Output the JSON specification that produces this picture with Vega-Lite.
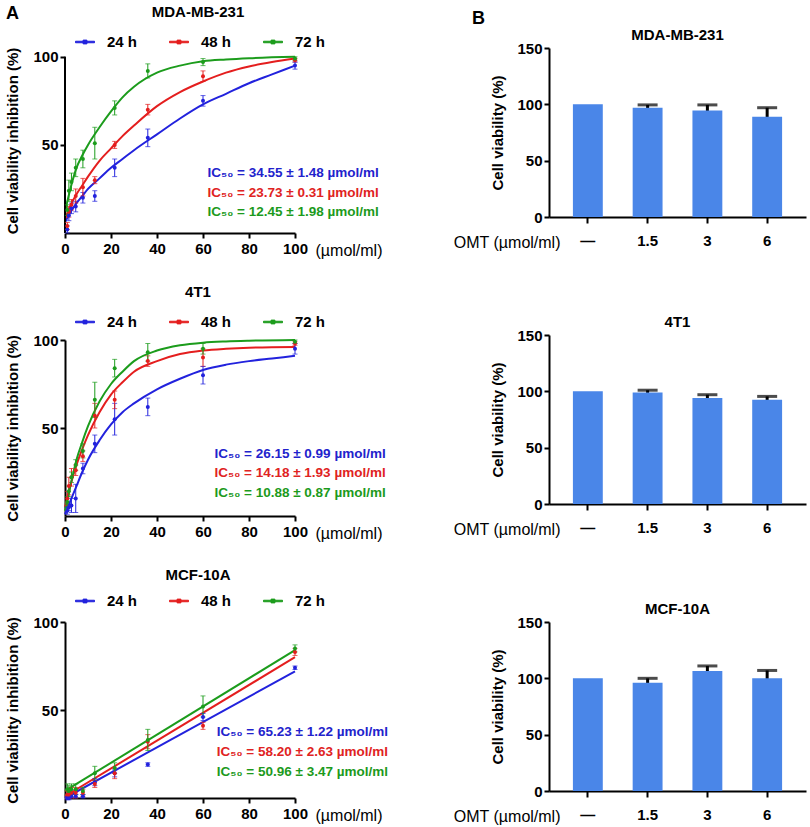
{
  "$schema": "https://vega.github.io/schema/vega-lite/v6.json",
  "background": "white",
  "config": {
    "font": "Liberation Sans",
    "view": {"stroke": null},
    "axis": {"grid": false, "domainColor": "#000", "domainWidth": 2, "tickColor": "#000", "tickWidth": 2, "tickSize": 5, "labelFont": "Liberation Sans", "labelFontSize": 15, "labelFontWeight": "bold", "labelColor": "#000", "titleFont": "Liberation Sans", "titleFontSize": 15, "titleFontWeight": "bold", "titleColor": "#000"},
    "title": {"font": "Liberation Sans", "fontSize": 15, "fontWeight": "bold", "color": "#000"},
    "legend": {"labelFont": "Liberation Sans", "labelFontSize": 15, "labelFontWeight": "bold", "labelColor": "#000", "symbolType": "M-1,-0.08H1V0.08H-1Z M-0.2,-0.2H0.2V0.2H-0.2Z", "symbolSize": 361, "labelOffset": 12, "columnPadding": 29, "symbolStrokeWidth": 1, "symbolOpacity": 1}
  },
  "datasets": {
    "pts": [
      {"cell":"MDA-MB-231","time":"24 h","conc":1.0,"val":2,"sd":2},
      {"cell":"MDA-MB-231","time":"24 h","conc":1.68,"val":10,"sd":3},
      {"cell":"MDA-MB-231","time":"24 h","conc":2.8,"val":14,"sd":3},
      {"cell":"MDA-MB-231","time":"24 h","conc":4.67,"val":15,"sd":3},
      {"cell":"MDA-MB-231","time":"24 h","conc":7.78,"val":20,"sd":3},
      {"cell":"MDA-MB-231","time":"24 h","conc":12.96,"val":21,"sd":3},
      {"cell":"MDA-MB-231","time":"24 h","conc":21.6,"val":37,"sd":5},
      {"cell":"MDA-MB-231","time":"24 h","conc":36,"val":54,"sd":5},
      {"cell":"MDA-MB-231","time":"24 h","conc":60,"val":75,"sd":3},
      {"cell":"MDA-MB-231","time":"24 h","conc":100,"val":95,"sd":2},
      {"cell":"MDA-MB-231","time":"48 h","conc":1.0,"val":4,"sd":2},
      {"cell":"MDA-MB-231","time":"48 h","conc":1.68,"val":12,"sd":3},
      {"cell":"MDA-MB-231","time":"48 h","conc":2.8,"val":16,"sd":3},
      {"cell":"MDA-MB-231","time":"48 h","conc":4.67,"val":21,"sd":4},
      {"cell":"MDA-MB-231","time":"48 h","conc":7.78,"val":26,"sd":5},
      {"cell":"MDA-MB-231","time":"48 h","conc":12.96,"val":30,"sd":2},
      {"cell":"MDA-MB-231","time":"48 h","conc":21.6,"val":50,"sd":2},
      {"cell":"MDA-MB-231","time":"48 h","conc":36,"val":70,"sd":3},
      {"cell":"MDA-MB-231","time":"48 h","conc":60,"val":89,"sd":3},
      {"cell":"MDA-MB-231","time":"48 h","conc":100,"val":98,"sd":1},
      {"cell":"MDA-MB-231","time":"72 h","conc":1.0,"val":13,"sd":3},
      {"cell":"MDA-MB-231","time":"72 h","conc":1.68,"val":24,"sd":6},
      {"cell":"MDA-MB-231","time":"72 h","conc":2.8,"val":29,"sd":5},
      {"cell":"MDA-MB-231","time":"72 h","conc":4.67,"val":37,"sd":5},
      {"cell":"MDA-MB-231","time":"72 h","conc":7.78,"val":42,"sd":5},
      {"cell":"MDA-MB-231","time":"72 h","conc":12.96,"val":51,"sd":9},
      {"cell":"MDA-MB-231","time":"72 h","conc":21.6,"val":71,"sd":4},
      {"cell":"MDA-MB-231","time":"72 h","conc":36,"val":92,"sd":4},
      {"cell":"MDA-MB-231","time":"72 h","conc":60,"val":97,"sd":2},
      {"cell":"MDA-MB-231","time":"72 h","conc":100,"val":99,"sd":1},
      {"cell":"4T1","time":"24 h","conc":1.0,"val":3,"sd":2},
      {"cell":"4T1","time":"24 h","conc":1.68,"val":5,"sd":2},
      {"cell":"4T1","time":"24 h","conc":2.8,"val":6,"sd":4},
      {"cell":"4T1","time":"24 h","conc":4.67,"val":10,"sd":8},
      {"cell":"4T1","time":"24 h","conc":7.78,"val":27,"sd":3},
      {"cell":"4T1","time":"24 h","conc":12.96,"val":41,"sd":5},
      {"cell":"4T1","time":"24 h","conc":21.6,"val":55,"sd":9},
      {"cell":"4T1","time":"24 h","conc":36,"val":62,"sd":5},
      {"cell":"4T1","time":"24 h","conc":60,"val":80,"sd":5},
      {"cell":"4T1","time":"24 h","conc":100,"val":95,"sd":3},
      {"cell":"4T1","time":"48 h","conc":1.0,"val":10,"sd":4},
      {"cell":"4T1","time":"48 h","conc":1.68,"val":17,"sd":5},
      {"cell":"4T1","time":"48 h","conc":2.8,"val":22,"sd":5},
      {"cell":"4T1","time":"48 h","conc":4.67,"val":26,"sd":3},
      {"cell":"4T1","time":"48 h","conc":7.78,"val":34,"sd":3},
      {"cell":"4T1","time":"48 h","conc":12.96,"val":57,"sd":7},
      {"cell":"4T1","time":"48 h","conc":21.6,"val":66,"sd":5},
      {"cell":"4T1","time":"48 h","conc":36,"val":88,"sd":3},
      {"cell":"4T1","time":"48 h","conc":60,"val":90,"sd":5},
      {"cell":"4T1","time":"48 h","conc":100,"val":98,"sd":1},
      {"cell":"4T1","time":"72 h","conc":1.0,"val":8,"sd":3},
      {"cell":"4T1","time":"72 h","conc":1.68,"val":14,"sd":3},
      {"cell":"4T1","time":"72 h","conc":2.8,"val":22,"sd":3},
      {"cell":"4T1","time":"72 h","conc":4.67,"val":29,"sd":3},
      {"cell":"4T1","time":"72 h","conc":7.78,"val":37,"sd":4},
      {"cell":"4T1","time":"72 h","conc":12.96,"val":66,"sd":10},
      {"cell":"4T1","time":"72 h","conc":21.6,"val":84,"sd":5},
      {"cell":"4T1","time":"72 h","conc":36,"val":93,"sd":5},
      {"cell":"4T1","time":"72 h","conc":60,"val":95,"sd":3},
      {"cell":"4T1","time":"72 h","conc":100,"val":99,"sd":1},
      {"cell":"MCF-10A","time":"24 h","conc":1.0,"val":0,"sd":1},
      {"cell":"MCF-10A","time":"24 h","conc":1.68,"val":0,"sd":1},
      {"cell":"MCF-10A","time":"24 h","conc":2.8,"val":1,"sd":1},
      {"cell":"MCF-10A","time":"24 h","conc":4.67,"val":1,"sd":1},
      {"cell":"MCF-10A","time":"24 h","conc":7.78,"val":1,"sd":1},
      {"cell":"MCF-10A","time":"24 h","conc":12.96,"val":9,"sd":2},
      {"cell":"MCF-10A","time":"24 h","conc":21.6,"val":14,"sd":2},
      {"cell":"MCF-10A","time":"24 h","conc":36,"val":19,"sd":1},
      {"cell":"MCF-10A","time":"24 h","conc":60,"val":46,"sd":2},
      {"cell":"MCF-10A","time":"24 h","conc":100,"val":74,"sd":1},
      {"cell":"MCF-10A","time":"48 h","conc":1.0,"val":2,"sd":2},
      {"cell":"MCF-10A","time":"48 h","conc":1.68,"val":2,"sd":2},
      {"cell":"MCF-10A","time":"48 h","conc":2.8,"val":3,"sd":3},
      {"cell":"MCF-10A","time":"48 h","conc":4.67,"val":3,"sd":3},
      {"cell":"MCF-10A","time":"48 h","conc":7.78,"val":3,"sd":2},
      {"cell":"MCF-10A","time":"48 h","conc":12.96,"val":8,"sd":2},
      {"cell":"MCF-10A","time":"48 h","conc":21.6,"val":14,"sd":3},
      {"cell":"MCF-10A","time":"48 h","conc":36,"val":32,"sd":4},
      {"cell":"MCF-10A","time":"48 h","conc":60,"val":41,"sd":2},
      {"cell":"MCF-10A","time":"48 h","conc":100,"val":83,"sd":2},
      {"cell":"MCF-10A","time":"72 h","conc":1.0,"val":5,"sd":3},
      {"cell":"MCF-10A","time":"72 h","conc":1.68,"val":4,"sd":3},
      {"cell":"MCF-10A","time":"72 h","conc":2.8,"val":5,"sd":3},
      {"cell":"MCF-10A","time":"72 h","conc":4.67,"val":5,"sd":3},
      {"cell":"MCF-10A","time":"72 h","conc":7.78,"val":4,"sd":2},
      {"cell":"MCF-10A","time":"72 h","conc":12.96,"val":14,"sd":4},
      {"cell":"MCF-10A","time":"72 h","conc":21.6,"val":17,"sd":3},
      {"cell":"MCF-10A","time":"72 h","conc":36,"val":33,"sd":6},
      {"cell":"MCF-10A","time":"72 h","conc":60,"val":52,"sd":6},
      {"cell":"MCF-10A","time":"72 h","conc":100,"val":85,"sd":2}
    ],
    "fit": [
      {"cell":"MDA-MB-231","time":"24 h","conc":0,"val":6},
      {"cell":"MDA-MB-231","time":"24 h","conc":2.5,"val":12},
      {"cell":"MDA-MB-231","time":"24 h","conc":5,"val":17},
      {"cell":"MDA-MB-231","time":"24 h","conc":7.5,"val":21},
      {"cell":"MDA-MB-231","time":"24 h","conc":10,"val":25},
      {"cell":"MDA-MB-231","time":"24 h","conc":15,"val":31},
      {"cell":"MDA-MB-231","time":"24 h","conc":20,"val":37},
      {"cell":"MDA-MB-231","time":"24 h","conc":25,"val":42},
      {"cell":"MDA-MB-231","time":"24 h","conc":30,"val":47},
      {"cell":"MDA-MB-231","time":"24 h","conc":40,"val":56},
      {"cell":"MDA-MB-231","time":"24 h","conc":50,"val":65},
      {"cell":"MDA-MB-231","time":"24 h","conc":60,"val":73},
      {"cell":"MDA-MB-231","time":"24 h","conc":70,"val":79},
      {"cell":"MDA-MB-231","time":"24 h","conc":80,"val":85},
      {"cell":"MDA-MB-231","time":"24 h","conc":90,"val":90},
      {"cell":"MDA-MB-231","time":"24 h","conc":100,"val":95},
      {"cell":"MDA-MB-231","time":"48 h","conc":0,"val":8},
      {"cell":"MDA-MB-231","time":"48 h","conc":2.5,"val":16},
      {"cell":"MDA-MB-231","time":"48 h","conc":5,"val":22},
      {"cell":"MDA-MB-231","time":"48 h","conc":7.5,"val":27},
      {"cell":"MDA-MB-231","time":"48 h","conc":10,"val":32},
      {"cell":"MDA-MB-231","time":"48 h","conc":15,"val":41},
      {"cell":"MDA-MB-231","time":"48 h","conc":20,"val":48},
      {"cell":"MDA-MB-231","time":"48 h","conc":25,"val":55},
      {"cell":"MDA-MB-231","time":"48 h","conc":30,"val":61},
      {"cell":"MDA-MB-231","time":"48 h","conc":40,"val":72},
      {"cell":"MDA-MB-231","time":"48 h","conc":50,"val":80},
      {"cell":"MDA-MB-231","time":"48 h","conc":60,"val":86},
      {"cell":"MDA-MB-231","time":"48 h","conc":70,"val":91},
      {"cell":"MDA-MB-231","time":"48 h","conc":80,"val":94.5},
      {"cell":"MDA-MB-231","time":"48 h","conc":90,"val":97},
      {"cell":"MDA-MB-231","time":"48 h","conc":100,"val":99},
      {"cell":"MDA-MB-231","time":"72 h","conc":0,"val":12},
      {"cell":"MDA-MB-231","time":"72 h","conc":2.5,"val":26},
      {"cell":"MDA-MB-231","time":"72 h","conc":5,"val":37},
      {"cell":"MDA-MB-231","time":"72 h","conc":7.5,"val":44},
      {"cell":"MDA-MB-231","time":"72 h","conc":10,"val":50},
      {"cell":"MDA-MB-231","time":"72 h","conc":15,"val":60},
      {"cell":"MDA-MB-231","time":"72 h","conc":20,"val":69},
      {"cell":"MDA-MB-231","time":"72 h","conc":25,"val":77},
      {"cell":"MDA-MB-231","time":"72 h","conc":30,"val":83},
      {"cell":"MDA-MB-231","time":"72 h","conc":40,"val":91},
      {"cell":"MDA-MB-231","time":"72 h","conc":50,"val":95},
      {"cell":"MDA-MB-231","time":"72 h","conc":60,"val":97.5},
      {"cell":"MDA-MB-231","time":"72 h","conc":70,"val":98.5},
      {"cell":"MDA-MB-231","time":"72 h","conc":80,"val":99.2},
      {"cell":"MDA-MB-231","time":"72 h","conc":100,"val":100},
      {"cell":"4T1","time":"24 h","conc":0,"val":1},
      {"cell":"4T1","time":"24 h","conc":2.5,"val":9},
      {"cell":"4T1","time":"24 h","conc":5,"val":17},
      {"cell":"4T1","time":"24 h","conc":7.5,"val":25},
      {"cell":"4T1","time":"24 h","conc":10,"val":32},
      {"cell":"4T1","time":"24 h","conc":15,"val":43},
      {"cell":"4T1","time":"24 h","conc":20,"val":52},
      {"cell":"4T1","time":"24 h","conc":25,"val":59},
      {"cell":"4T1","time":"24 h","conc":30,"val":64},
      {"cell":"4T1","time":"24 h","conc":40,"val":72},
      {"cell":"4T1","time":"24 h","conc":50,"val":78},
      {"cell":"4T1","time":"24 h","conc":60,"val":83},
      {"cell":"4T1","time":"24 h","conc":70,"val":86},
      {"cell":"4T1","time":"24 h","conc":80,"val":88},
      {"cell":"4T1","time":"24 h","conc":90,"val":89.5},
      {"cell":"4T1","time":"24 h","conc":100,"val":91},
      {"cell":"4T1","time":"48 h","conc":0,"val":5},
      {"cell":"4T1","time":"48 h","conc":2.5,"val":18},
      {"cell":"4T1","time":"48 h","conc":5,"val":29},
      {"cell":"4T1","time":"48 h","conc":7.5,"val":38},
      {"cell":"4T1","time":"48 h","conc":10,"val":46},
      {"cell":"4T1","time":"48 h","conc":15,"val":59},
      {"cell":"4T1","time":"48 h","conc":20,"val":69},
      {"cell":"4T1","time":"48 h","conc":25,"val":76},
      {"cell":"4T1","time":"48 h","conc":30,"val":82},
      {"cell":"4T1","time":"48 h","conc":40,"val":88},
      {"cell":"4T1","time":"48 h","conc":50,"val":92},
      {"cell":"4T1","time":"48 h","conc":60,"val":94},
      {"cell":"4T1","time":"48 h","conc":70,"val":95},
      {"cell":"4T1","time":"48 h","conc":80,"val":95.6},
      {"cell":"4T1","time":"48 h","conc":100,"val":96},
      {"cell":"4T1","time":"72 h","conc":0,"val":3},
      {"cell":"4T1","time":"72 h","conc":2.5,"val":18},
      {"cell":"4T1","time":"72 h","conc":5,"val":32},
      {"cell":"4T1","time":"72 h","conc":7.5,"val":42},
      {"cell":"4T1","time":"72 h","conc":10,"val":51},
      {"cell":"4T1","time":"72 h","conc":15,"val":65},
      {"cell":"4T1","time":"72 h","conc":20,"val":75},
      {"cell":"4T1","time":"72 h","conc":25,"val":82},
      {"cell":"4T1","time":"72 h","conc":30,"val":88},
      {"cell":"4T1","time":"72 h","conc":40,"val":94},
      {"cell":"4T1","time":"72 h","conc":50,"val":97},
      {"cell":"4T1","time":"72 h","conc":60,"val":98.5},
      {"cell":"4T1","time":"72 h","conc":70,"val":99.2},
      {"cell":"4T1","time":"72 h","conc":80,"val":99.6},
      {"cell":"4T1","time":"72 h","conc":100,"val":100},
      {"cell":"MCF-10A","time":"24 h","conc":0,"val":0},
      {"cell":"MCF-10A","time":"24 h","conc":100,"val":72},
      {"cell":"MCF-10A","time":"48 h","conc":0,"val":1},
      {"cell":"MCF-10A","time":"48 h","conc":100,"val":80},
      {"cell":"MCF-10A","time":"72 h","conc":0,"val":4},
      {"cell":"MCF-10A","time":"72 h","conc":100,"val":84}
    ],
    "bars": [
      {"cell":"MDA-MB-231","dose":"—","viability":100,"sd":0},
      {"cell":"MDA-MB-231","dose":"1.5","viability":97,"sd":2.5},
      {"cell":"MDA-MB-231","dose":"3","viability":94.5,"sd":5},
      {"cell":"MDA-MB-231","dose":"6","viability":89,"sd":8},
      {"cell":"4T1","dose":"—","viability":100,"sd":0},
      {"cell":"4T1","dose":"1.5","viability":99,"sd":2},
      {"cell":"4T1","dose":"3","viability":94,"sd":3},
      {"cell":"4T1","dose":"6","viability":92.5,"sd":3},
      {"cell":"MCF-10A","dose":"—","viability":100,"sd":0},
      {"cell":"MCF-10A","dose":"1.5","viability":96,"sd":4},
      {"cell":"MCF-10A","dose":"3","viability":106.5,"sd":4.5},
      {"cell":"MCF-10A","dose":"6","viability":100,"sd":7}
    ]
  },
  "resolve": {"legend": {"color": "independent"}},
  "spacing": 65,
  "hconcat": [
    {
      "title": {"text": "A", "anchor": "start", "fontSize": 18, "fontWeight": "bold", "offset": -18},
      "resolve": {"legend": {"color": "independent"}},
      "spacing": 27,
      "vconcat": [
        {
          "title": {"text": "MDA-MB-231", "offset": 12, "dx": 18},
          "width": 230, "height": 185,
          "layer": [
            {"data": {"name": "fit"}, "transform": [{"filter": "datum.cell === 'MDA-MB-231'"}], "mark": {"type": "line", "strokeWidth": 2, "interpolate": "monotone"},
             "encoding": {
              "x": {"field": "conc", "type": "quantitative", "title": "(µmol/ml)", "scale": {"domain": [0, 100], "nice": false}, "axis": {"values": [0, 20, 40, 60, 80, 100], "labelFlush": false, "labelPadding": 3, "titleX": 250, "titleY": 17, "titleAlign": "left", "titleBaseline": "middle", "titleFontWeight": "normal", "titleFontSize": 16}},
              "y": {"field": "val", "type": "quantitative", "title": "Cell viability inhibition (%)", "scale": {"domain": [0, 105], "nice": false}, "axis": {"values": [50, 100], "domain": false, "labelPadding": 2, "titlePadding": 12}},
              "color": {"field": "time", "type": "nominal", "scale": {"domain": ["24 h", "48 h", "72 h"], "range": ["#2222dd", "#e41e1e", "#1c9c1c"]}, "legend": {"title": null, "orient": "none", "direction": "horizontal", "legendX": 10, "legendY": -16}}
             }},
            {"data": {"values": [{}]}, "mark": {"type": "rule", "strokeWidth": 2, "color": "#000"}, "encoding": {"x": {"datum": 0, "type": "quantitative"}, "y": {"datum": 0, "type": "quantitative"}, "y2": {"datum": 100}}},
            {"data": {"name": "pts"}, "transform": [{"filter": "datum.cell === 'MDA-MB-231'"}], "mark": {"type": "errorbar", "ticks": true, "size": 5, "thickness": 1},
             "encoding": {"x": {"field": "conc", "type": "quantitative", "title": "(µmol/ml)"}, "y": {"field": "val", "type": "quantitative", "title": "Cell viability inhibition (%)"}, "yError": {"field": "sd"}, "color": {"field": "time", "type": "nominal"}}},
            {"data": {"name": "pts"}, "transform": [{"filter": "datum.cell === 'MDA-MB-231'"}], "mark": {"type": "point", "filled": true, "size": 16, "opacity": 1},
             "encoding": {"x": {"field": "conc", "type": "quantitative", "title": "(µmol/ml)"}, "y": {"field": "val", "type": "quantitative", "title": "Cell viability inhibition (%)"}, "color": {"field": "time", "type": "nominal"}}},
            {"data": {"values": [{}]}, "mark": {"type": "text", "align": "left", "baseline": "middle", "fontSize": 13.5, "fontWeight": "bold", "color": "#2222cc", "text": "IC₅₀ = 34.55 ± 1.48 µmol/ml"}, "encoding": {"x": {"datum": 62, "type": "quantitative"}, "y": {"datum": 34, "type": "quantitative"}}},
            {"data": {"values": [{}]}, "mark": {"type": "text", "align": "left", "baseline": "middle", "fontSize": 13.5, "fontWeight": "bold", "color": "#e02222", "text": "IC₅₀ = 23.73 ± 0.31 µmol/ml"}, "encoding": {"x": {"datum": 62, "type": "quantitative"}, "y": {"datum": 22.7, "type": "quantitative"}}},
            {"data": {"values": [{}]}, "mark": {"type": "text", "align": "left", "baseline": "middle", "fontSize": 13.5, "fontWeight": "bold", "color": "#1c9a1c", "text": "IC₅₀ = 12.45 ± 1.98 µmol/ml"}, "encoding": {"x": {"datum": 62, "type": "quantitative"}, "y": {"datum": 12, "type": "quantitative"}}}
          ]
        },
        {
          "title": {"text": "4T1", "offset": 12, "dx": 18},
          "width": 230, "height": 176,
          "layer": [
            {"data": {"name": "fit"}, "transform": [{"filter": "datum.cell === '4T1'"}], "mark": {"type": "line", "strokeWidth": 2, "interpolate": "monotone"},
             "encoding": {
              "x": {"field": "conc", "type": "quantitative", "title": "(µmol/ml)", "scale": {"domain": [0, 100], "nice": false}, "axis": {"values": [0, 20, 40, 60, 80, 100], "labelFlush": false, "labelPadding": 3, "titleX": 250, "titleY": 17, "titleAlign": "left", "titleBaseline": "middle", "titleFontWeight": "normal", "titleFontSize": 16}},
              "y": {"field": "val", "type": "quantitative", "title": "Cell viability inhibition (%)", "scale": {"domain": [0, 100], "nice": false}, "axis": {"values": [50, 100], "labelPadding": 2, "titlePadding": 12}},
              "color": {"field": "time", "type": "nominal", "scale": {"domain": ["24 h", "48 h", "72 h"], "range": ["#2222dd", "#e41e1e", "#1c9c1c"]}, "legend": {"title": null, "orient": "none", "direction": "horizontal", "legendX": 10, "legendY": -28}}
             }},
            {"data": {"name": "pts"}, "transform": [{"filter": "datum.cell === '4T1'"}], "mark": {"type": "errorbar", "ticks": true, "size": 5, "thickness": 1},
             "encoding": {"x": {"field": "conc", "type": "quantitative", "title": "(µmol/ml)"}, "y": {"field": "val", "type": "quantitative", "title": "Cell viability inhibition (%)"}, "yError": {"field": "sd"}, "color": {"field": "time", "type": "nominal"}}},
            {"data": {"name": "pts"}, "transform": [{"filter": "datum.cell === '4T1'"}], "mark": {"type": "point", "filled": true, "size": 16, "opacity": 1},
             "encoding": {"x": {"field": "conc", "type": "quantitative", "title": "(µmol/ml)"}, "y": {"field": "val", "type": "quantitative", "title": "Cell viability inhibition (%)"}, "color": {"field": "time", "type": "nominal"}}},
            {"data": {"values": [{}]}, "mark": {"type": "text", "align": "left", "baseline": "middle", "fontSize": 13.5, "fontWeight": "bold", "color": "#2222cc", "text": "IC₅₀ = 26.15 ± 0.99 µmol/ml"}, "encoding": {"x": {"datum": 65, "type": "quantitative"}, "y": {"datum": 35.2, "type": "quantitative"}}},
            {"data": {"values": [{}]}, "mark": {"type": "text", "align": "left", "baseline": "middle", "fontSize": 13.5, "fontWeight": "bold", "color": "#e02222", "text": "IC₅₀ = 14.18 ± 1.93 µmol/ml"}, "encoding": {"x": {"datum": 65, "type": "quantitative"}, "y": {"datum": 24.4, "type": "quantitative"}}},
            {"data": {"values": [{}]}, "mark": {"type": "text", "align": "left", "baseline": "middle", "fontSize": 13.5, "fontWeight": "bold", "color": "#1c9a1c", "text": "IC₅₀ = 10.88 ± 0.87 µmol/ml"}, "encoding": {"x": {"datum": 65, "type": "quantitative"}, "y": {"datum": 13.1, "type": "quantitative"}}}
          ]
        },
        {
          "title": {"text": "MCF-10A", "offset": 8, "dx": 18},
          "width": 230, "height": 176,
          "layer": [
            {"data": {"name": "fit"}, "transform": [{"filter": "datum.cell === 'MCF-10A'"}], "mark": {"type": "line", "strokeWidth": 2},
             "encoding": {
              "x": {"field": "conc", "type": "quantitative", "title": "(µmol/ml)", "scale": {"domain": [0, 100], "nice": false}, "axis": {"values": [0, 20, 40, 60, 80, 100], "labelFlush": false, "labelPadding": 3, "titleX": 250, "titleY": 17, "titleAlign": "left", "titleBaseline": "middle", "titleFontWeight": "normal", "titleFontSize": 16}},
              "y": {"field": "val", "type": "quantitative", "title": "Cell viability inhibition (%)", "scale": {"domain": [0, 100], "nice": false}, "axis": {"values": [50, 100], "labelPadding": 2, "titlePadding": 12}},
              "color": {"field": "time", "type": "nominal", "scale": {"domain": ["24 h", "48 h", "72 h"], "range": ["#2222dd", "#e41e1e", "#1c9c1c"]}, "legend": {"title": null, "orient": "none", "direction": "horizontal", "legendX": 10, "legendY": -31}}
             }},
            {"data": {"name": "pts"}, "transform": [{"filter": "datum.cell === 'MCF-10A'"}], "mark": {"type": "errorbar", "ticks": true, "size": 5, "thickness": 1},
             "encoding": {"x": {"field": "conc", "type": "quantitative", "title": "(µmol/ml)"}, "y": {"field": "val", "type": "quantitative", "title": "Cell viability inhibition (%)"}, "yError": {"field": "sd"}, "color": {"field": "time", "type": "nominal"}}},
            {"data": {"name": "pts"}, "transform": [{"filter": "datum.cell === 'MCF-10A'"}], "mark": {"type": "point", "filled": true, "size": 16, "opacity": 1},
             "encoding": {"x": {"field": "conc", "type": "quantitative", "title": "(µmol/ml)"}, "y": {"field": "val", "type": "quantitative", "title": "Cell viability inhibition (%)"}, "color": {"field": "time", "type": "nominal"}}},
            {"data": {"values": [{}]}, "mark": {"type": "text", "align": "left", "baseline": "middle", "fontSize": 13.5, "fontWeight": "bold", "color": "#2222cc", "text": "IC₅₀ = 65.23 ± 1.22 µmol/ml"}, "encoding": {"x": {"datum": 66, "type": "quantitative"}, "y": {"datum": 37.5, "type": "quantitative"}}},
            {"data": {"values": [{}]}, "mark": {"type": "text", "align": "left", "baseline": "middle", "fontSize": 13.5, "fontWeight": "bold", "color": "#e02222", "text": "IC₅₀ = 58.20 ± 2.63 µmol/ml"}, "encoding": {"x": {"datum": 66, "type": "quantitative"}, "y": {"datum": 26.1, "type": "quantitative"}}},
            {"data": {"values": [{}]}, "mark": {"type": "text", "align": "left", "baseline": "middle", "fontSize": 13.5, "fontWeight": "bold", "color": "#1c9a1c", "text": "IC₅₀ = 50.96 ± 3.47 µmol/ml"}, "encoding": {"x": {"datum": 66, "type": "quantitative"}, "y": {"datum": 14.8, "type": "quantitative"}}}
          ]
        }
      ]
    },
    {
      "title": {"text": "B", "anchor": "start", "fontSize": 18, "fontWeight": "bold", "offset": 0, "dx": 19},
      "spacing": 65,
      "vconcat": [
        {
          "title": {"text": "MDA-MB-231", "frame": "group", "offset": -2},
          "width": 257, "height": 169,
          "data": {"name": "bars"},
          "transform": [{"filter": "datum.cell === 'MDA-MB-231'"}],
          "encoding": {
            "x": {"field": "dose", "type": "ordinal", "sort": ["—", "1.5", "3", "6"], "scale": {"paddingInner": 0.5, "paddingOuter": 0.4}, "axis": {"labelAngle": 0, "labelPadding": 10, "tickSize": 6, "title": "OMT (µmol/ml)", "titleX": 11, "titleY": 25, "titleAlign": "right", "titleBaseline": "middle", "titleFontWeight": "normal", "titleFontSize": 16}},
            "y": {"field": "viability", "type": "quantitative", "scale": {"domain": [0, 150], "nice": false}, "axis": {"values": [0, 50, 100, 150], "labelPadding": 2, "title": "Cell viability (%)", "titlePadding": 11}}
          },
          "layer": [
            {"transform": [{"filter": "datum.sd > 0"}], "mark": {"type": "errorbar", "ticks": true, "size": 20, "thickness": 3, "color": "#000"}, "encoding": {"yError": {"field": "sd"}}},
            {"mark": {"type": "bar", "color": "#4a86e8"}}
          ]
        },
        {
          "title": {"text": "4T1", "frame": "group", "offset": -2},
          "width": 257, "height": 169,
          "data": {"name": "bars"},
          "transform": [{"filter": "datum.cell === '4T1'"}],
          "encoding": {
            "x": {"field": "dose", "type": "ordinal", "sort": ["—", "1.5", "3", "6"], "scale": {"paddingInner": 0.5, "paddingOuter": 0.4}, "axis": {"labelAngle": 0, "labelPadding": 10, "tickSize": 6, "title": "OMT (µmol/ml)", "titleX": 11, "titleY": 25, "titleAlign": "right", "titleBaseline": "middle", "titleFontWeight": "normal", "titleFontSize": 16}},
            "y": {"field": "viability", "type": "quantitative", "scale": {"domain": [0, 150], "nice": false}, "axis": {"values": [0, 50, 100, 150], "labelPadding": 2, "title": "Cell viability (%)", "titlePadding": 11}}
          },
          "layer": [
            {"transform": [{"filter": "datum.sd > 0"}], "mark": {"type": "errorbar", "ticks": true, "size": 20, "thickness": 3, "color": "#000"}, "encoding": {"yError": {"field": "sd"}}},
            {"mark": {"type": "bar", "color": "#4a86e8"}}
          ]
        },
        {
          "title": {"text": "MCF-10A", "frame": "group", "offset": -2},
          "width": 257, "height": 169,
          "data": {"name": "bars"},
          "transform": [{"filter": "datum.cell === 'MCF-10A'"}],
          "encoding": {
            "x": {"field": "dose", "type": "ordinal", "sort": ["—", "1.5", "3", "6"], "scale": {"paddingInner": 0.5, "paddingOuter": 0.4}, "axis": {"labelAngle": 0, "labelPadding": 10, "tickSize": 6, "title": "OMT (µmol/ml)", "titleX": 11, "titleY": 25, "titleAlign": "right", "titleBaseline": "middle", "titleFontWeight": "normal", "titleFontSize": 16}},
            "y": {"field": "viability", "type": "quantitative", "scale": {"domain": [0, 150], "nice": false}, "axis": {"values": [0, 50, 100, 150], "labelPadding": 2, "title": "Cell viability (%)", "titlePadding": 11}}
          },
          "layer": [
            {"transform": [{"filter": "datum.sd > 0"}], "mark": {"type": "errorbar", "ticks": true, "size": 20, "thickness": 3, "color": "#000"}, "encoding": {"yError": {"field": "sd"}}},
            {"mark": {"type": "bar", "color": "#4a86e8"}}
          ]
        }
      ]
    }
  ]
}
